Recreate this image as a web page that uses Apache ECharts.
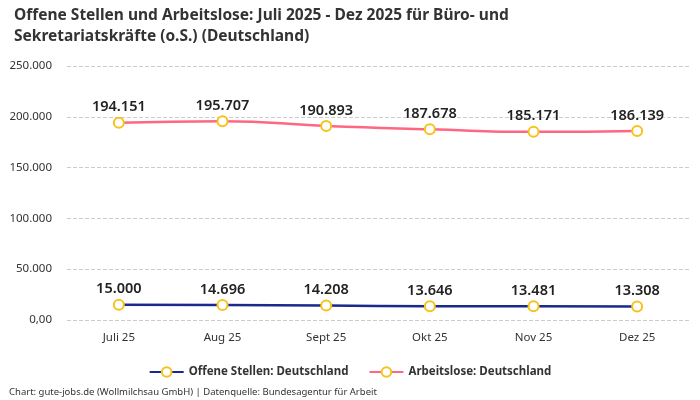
<!DOCTYPE html>
<html><head><meta charset="utf-8">
<script src="https://cdn.jsdelivr.net/npm/echarts@6/dist/echarts.min.js"></script>
<style>html,body{margin:0;padding:0;background:#fff}#c{width:700px;height:400px}</style>
</head><body><div id="c"></div>
<script>
const categories = ['Juli 25','Aug 25','Sept 25','Okt 25','Nov 25','Dez 25'];
const offeneStellen = [15000,14696,14208,13646,13481,13308];
const arbeitslose = [194151,195707,190893,187678,185171,186139];
const yTicks = [0,50000,100000,150000,200000,250000];
const fontFam = '"Noto Sans", sans-serif';
function fmt(v){ if(v===0) return '0,00'; return v.toLocaleString('de-DE'); }
const chart = echarts.init(document.getElementById('c'));
const sym = {symbol:'circle', symbolSize:10, itemStyle:{color:'#fff', borderColor:'#f7c21b', borderWidth:2}};
chart.setOption({
  animation:false,
  textStyle:{fontFamily:fontFam},
  title:{text:'Offene Stellen und Arbeitslose: Juli 2025 - Dez 2025 für Büro- und\nSekretariatskräfte (o.S.) (Deutschland)', left:9, top:0,
    textStyle:{fontSize:15.5, fontWeight:'bold', color:'#333', lineHeight:21, fontFamily:fontFam}},
  grid:{left:67, right:11, top:66, bottom:80},
  legend:{bottom:17, left:'center', itemGap:20, itemWidth:34, itemHeight:12,
    textStyle:{fontSize:11.5, fontWeight:'bold', color:'#333'},
    data:['Offene Stellen: Deutschland','Arbeitslose: Deutschland']},
  graphic:[{type:'text', left:9, bottom:3, style:{text:'Chart: gute-jobs.de (Wollmilchsau GmbH) | Datenquelle: Bundesagentur für Arbeit', fontSize:9.5, fill:'#333', fontFamily:fontFam}}],
  xAxis:{type:'category', data:categories, boundaryGap:true,
    axisLine:{show:false}, axisTick:{show:false},
    axisLabel:{color:'#333', fontSize:11.5, margin:12}},
  yAxis:{type:'value', min:0, max:250000, interval:50000,
    axisLine:{show:false}, axisTick:{show:false},
    axisLabel:{color:'#333', fontSize:11.5, margin:15, formatter:fmt},
    splitLine:{lineStyle:{type:'dashed', color:'#ccc'}}},
  series:[
    Object.assign({name:'Offene Stellen: Deutschland', type:'line', data:offeneStellen, smooth:true,
      lineStyle:{color:'#1a2a8c', width:2.5}, color:'#1a2a8c',
      label:{show:true, position:'top', distance:2, formatter:p=>fmt(p.value), fontSize:14.5, fontWeight:600, color:'#222'}}, sym),
    Object.assign({name:'Arbeitslose: Deutschland', type:'line', data:arbeitslose, smooth:true,
      lineStyle:{color:'#ff6682', width:2.5}, color:'#ff6682',
      label:{show:true, position:'top', distance:2, formatter:p=>fmt(p.value), fontSize:14.5, fontWeight:600, color:'#222'}}, sym)
  ]
});
</script></body></html>
